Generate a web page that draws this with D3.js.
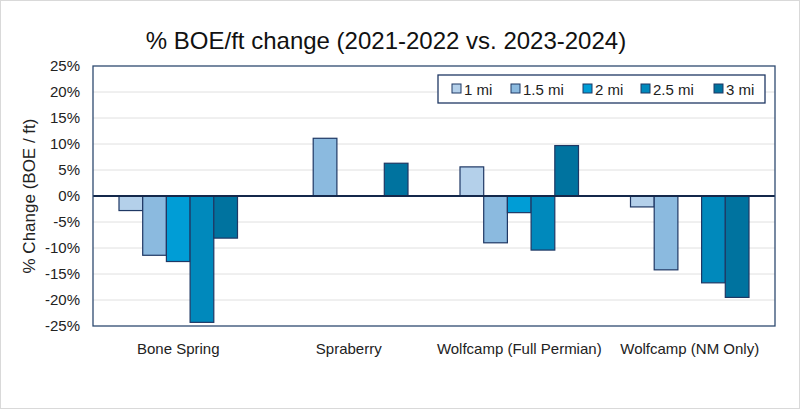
<!DOCTYPE html>
<html><head><meta charset="utf-8">
<script src="https://cdn.jsdelivr.net/npm/d3@7"></script>
<style>body{margin:0;background:#fff}svg{display:block;font-family:"Liberation Sans",Arial,sans-serif}</style>
</head><body><svg id="c" width="800" height="409"></svg>
<script>
const categories = ["Bone Spring", "Spraberry", "Wolfcamp (Full Permian)", "Wolfcamp (NM Only)"];
const seriesNames = ["1 mi", "1.5 mi", "2 mi", "2.5 mi", "3 mi"];
const s1mi  = [-2.8, null, 5.6, -2.1];
const s15mi = [-11.4, 11.1, -9.0, -14.2];
const s2mi  = [-12.6, null, -3.2, null];
const s25mi = [-24.3, null, -10.4, -16.7];
const s3mi  = [-8.1, 6.3, 9.7, -19.5];
const yTicks = [25, 20, 15, 10, 5, 0, -5, -10, -15, -20, -25];
const colors = ["#b4d0ea", "#8bbadf", "#009dd6", "#0089bc", "#00739f"];
const seriesValues = [s1mi, s15mi, s2mi, s25mi, s3mi];

const svg = d3.select("#c");
const W = 800, H = 409;
const m = {l: 93, r: 25, t: 66, b: 83};
const x0 = d3.scaleBand().domain(categories).range([m.l, W - m.r]).paddingInner(0.305).paddingOuter(0.1525);
const x1 = d3.scaleBand().domain(seriesNames).range([0, x0.bandwidth()]);
const y = d3.scaleLinear().domain([-25, 25]).range([H - m.b, m.t]);

svg.append("rect").attr("x", 0.5).attr("y", 0.5).attr("width", W - 1).attr("height", H - 1)
  .attr("fill", "#fff").attr("stroke", "#d9d9d9");

// gridlines
svg.append("g").selectAll("line").data(yTicks.filter(t => t !== 0 && Math.abs(t) !== 25)).join("line")
  .attr("x1", m.l).attr("x2", W - m.r).attr("y1", d => y(d)).attr("y2", d => y(d))
  .attr("stroke", "#e0e0e0").attr("stroke-width", 1);

// y axis labels
const yAxis = d3.axisLeft(y).tickValues(yTicks).tickFormat(d => d + "%").tickSize(0).tickPadding(13);
const ga = svg.append("g").attr("transform", `translate(${m.l},0)`).call(yAxis);
ga.select(".domain").remove();
ga.selectAll("text").attr("font-size", 15).attr("fill", "#222").attr("font-family", '"Liberation Sans",Arial,sans-serif');

// bars
const data = [];
categories.forEach((c, i) => seriesNames.forEach((s, j) => {
  const v = seriesValues[j][i];
  if (v !== null) data.push({c, s, v, j});
}));
svg.append("g").selectAll("rect").data(data).join("rect")
  .attr("x", d => x0(d.c) + x1(d.s))
  .attr("width", x1.bandwidth())
  .attr("y", d => y(Math.max(0, d.v)))
  .attr("height", d => Math.abs(y(d.v) - y(0)))
  .attr("fill", d => colors[d.j])
  .attr("stroke", "#1f3864").attr("stroke-width", 1.2);

// zero line
svg.append("line").attr("x1", m.l).attr("x2", W - m.r).attr("y1", y(0)).attr("y2", y(0))
  .attr("stroke", "#14284b").attr("stroke-width", 2.2);

// plot border
svg.append("rect").attr("x", m.l).attr("y", m.t).attr("width", W - m.l - m.r).attr("height", H - m.t - m.b)
  .attr("fill", "none").attr("stroke", "#2e4a70").attr("stroke-width", 1.3);

// x labels
const xAxis = d3.axisBottom(x0).tickSize(0).tickPadding(17);
const gx = svg.append("g").attr("transform", `translate(0,${H - m.b})`).call(xAxis);
gx.select(".domain").remove();
gx.selectAll("text").attr("font-size", 15).attr("fill", "#222").attr("font-family", '"Liberation Sans",Arial,sans-serif');

// title
svg.append("text").attr("x", 386).attr("y", 49).attr("text-anchor", "middle")
  .attr("font-size", 24).attr("fill", "#111").text("% BOE/ft change (2021-2022 vs. 2023-2024)");

// y title
svg.append("text").attr("transform", `translate(35,${y(0)}) rotate(-90)`).attr("text-anchor", "middle")
  .attr("font-size", 17).attr("fill", "#222").text("% Change (BOE / ft)");

// legend
const lg = svg.append("g");
lg.append("rect").attr("x", 438).attr("y", 75).attr("width", 327).attr("height", 28)
  .attr("fill", "#fff").attr("stroke", "#1f3864").attr("stroke-width", 1.3);
const legX = [452, 511, 583, 641, 714];
seriesNames.forEach((s, j) => {
  lg.append("rect").attr("x", legX[j]).attr("y", 84).attr("width", 9).attr("height", 9)
    .attr("fill", colors[j]).attr("stroke", "#1f3864").attr("stroke-width", 1);
  lg.append("text").attr("x", legX[j] + 12).attr("y", 94.5).attr("font-size", 15).attr("fill", "#222").text(s);
});
</script></body></html>
